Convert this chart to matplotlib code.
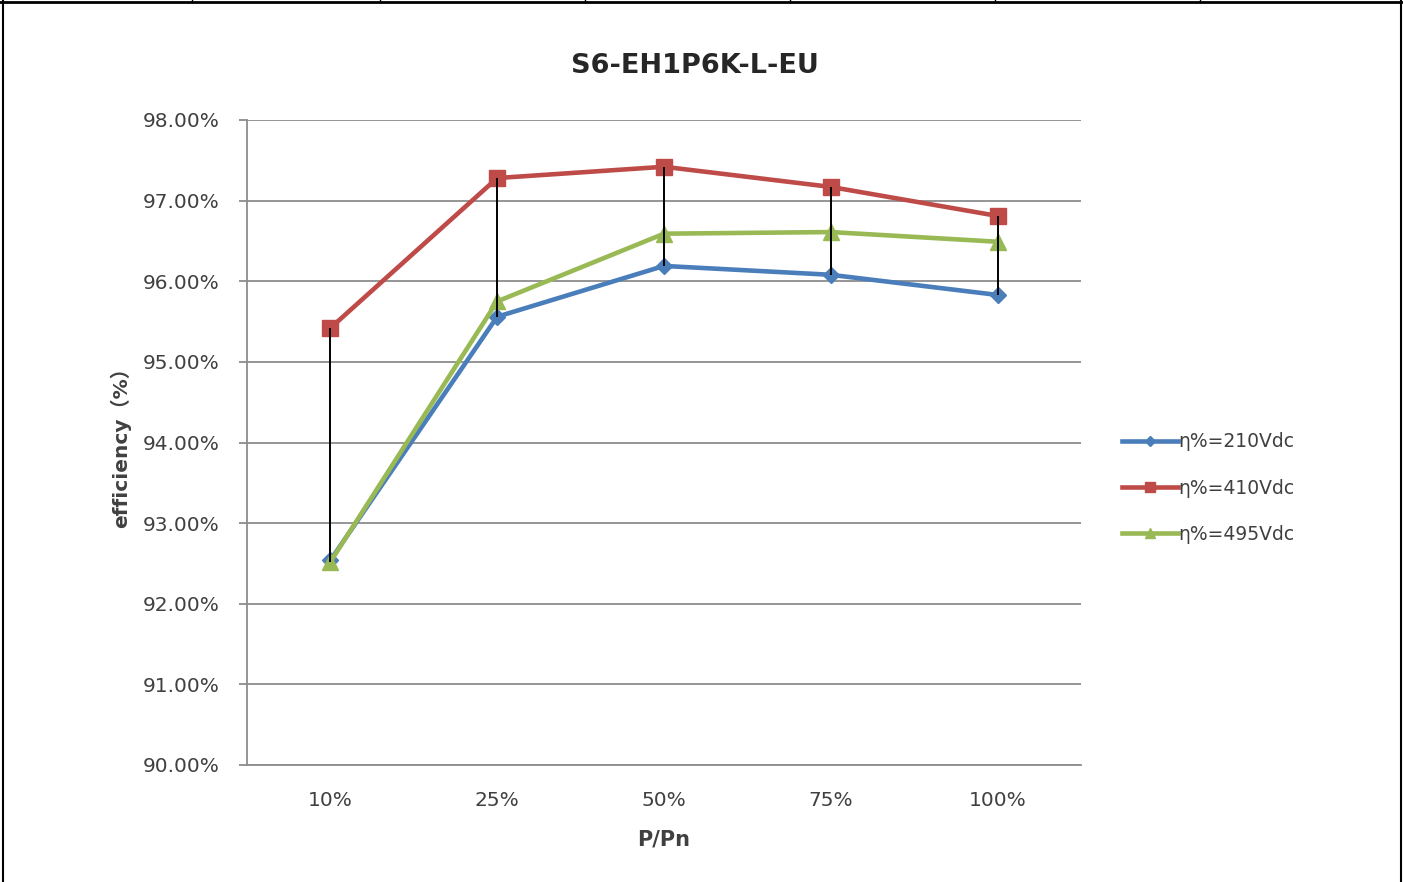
import matplotlib
matplotlib.use("Agg")
import matplotlib.pyplot as plt
from matplotlib.lines import Line2D
import numpy as np

# values (efficiency in %)
load_labels = ["10%", "25%", "50%", "75%", "100%"]
eff_210 = [92.54, 95.56, 96.19, 96.08, 95.83]
eff_410 = [95.42, 97.28, 97.42, 97.17, 96.81]
eff_495 = [92.52, 95.75, 96.59, 96.61, 96.49]
series_names = ["η%=210Vdc", "η%=410Vdc", "η%=495Vdc"]

plt.rcParams['font.family'] = ['DejaVu Sans', 'Noto Sans CJK SC']

W, H = 1403, 882
fig = plt.figure(figsize=(W / 100, H / 100), dpi=100)
ax = fig.add_axes([247 / W, 1 - 765 / H, (1081 - 247) / W, (765 - 120) / H])

x = np.arange(len(load_labels))
ax.plot(x, eff_210, color='#4A7EBB', lw=3.3, marker='D', ms=8, label=series_names[0], zorder=3)
ax.plot(x, eff_410, color='#BE4B48', lw=3.3, marker='s', ms=11, label=series_names[1], zorder=3)
ax.plot(x, eff_495, color='#98B954', lw=3.3, marker='^', ms=11, label=series_names[2], zorder=3)

# high-low lines
all_vals = np.array([eff_210, eff_410, eff_495])
ax.vlines(x, all_vals.min(axis=0), all_vals.max(axis=0), color='black', lw=1.4, zorder=4)

ax.set_xlim(-0.5, len(load_labels) - 0.5)
ax.set_ylim(90, 98)
ax.set_yticks(np.arange(90, 98.01, 1))
ax.set_yticklabels([f"{v:.2f}%" for v in np.arange(90, 98.01, 1)])
ax.set_xticks(x)
ax.set_xticklabels(load_labels)

ax.grid(axis='y', color='#8C8C8C', lw=1.3)
ax.set_axisbelow(True)
for s in ['top', 'right']:
    ax.spines[s].set_visible(False)
for s in ['left', 'bottom']:
    ax.spines[s].set_color('#8C8C8C')
    ax.spines[s].set_linewidth(1.3)
ax.tick_params(axis='y', length=6, color='#8C8C8C', width=1.3, labelsize=14.5, labelcolor='#404040', pad=14)
ax.tick_params(axis='x', length=0, labelsize=14.5, labelcolor='#404040', pad=19)

ax.set_xlabel("P/Pn", fontsize=15, fontweight='bold', color='#404040', labelpad=14)
ax.set_ylabel("efficiency（%）", fontsize=14.5, fontweight='bold', color='#404040', labelpad=8)
fig.text(695 / W, 1 - 66 / H, "S6-EH1P6K-L-EU", ha='center', va='center',
         fontsize=19.5, fontweight='bold', color='#262626')

leg = ax.legend(loc='center left', bbox_to_anchor=(1105 / W, 1 - 488 / H), bbox_transform=fig.transFigure,
                frameon=False, fontsize=13.5, handlelength=3.0, handletextpad=0.0, labelspacing=1.45,
                markerscale=0.7)
for t in leg.get_texts():
    t.set_color('#404040')

# page border like the screenshot
fig.add_artist(Line2D([3 / W, 3 / W], [0, 1], color='black', lw=1.5, transform=fig.transFigure))
fig.add_artist(Line2D([1401 / W, 1401 / W], [0, 1], color='black', lw=1.5, transform=fig.transFigure))
fig.add_artist(Line2D([0, 1], [1 - 2 / H, 1 - 2 / H], color='black', lw=2, transform=fig.transFigure))
for px in [192, 380, 585, 790, 995, 1200]:
    fig.add_artist(Line2D([px / W, px / W], [1 - 2 / H, 1], color='black', lw=1, transform=fig.transFigure))

fig.savefig("out.png", dpi=100)
